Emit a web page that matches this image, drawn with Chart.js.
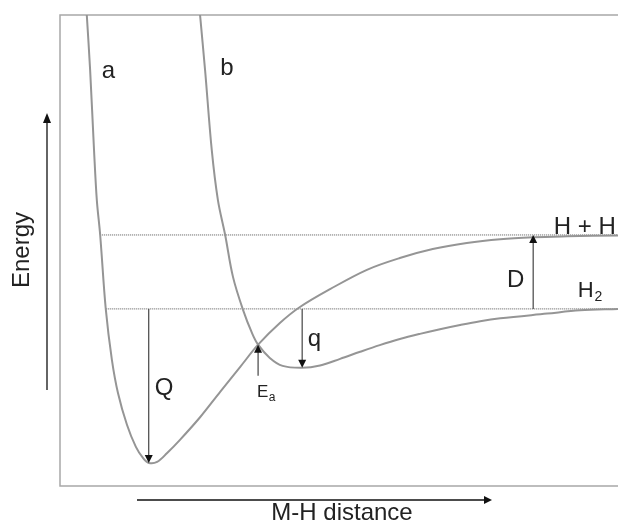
<!DOCTYPE html>
<html>
<head>
<meta charset="utf-8">
<script src="https://cdn.jsdelivr.net/npm/chart.js@4.4.1/dist/chart.umd.min.js"></script>
<style>
  html,body{margin:0;padding:0;background:#fff;}
  #wrap{width:618px;height:532px;position:relative;}
</style>
</head>
<body>
<div id="wrap"><canvas id="pes"></canvas></div>
<script>
// curve a: chemisorbed H (deep well, goes to H + H)
const aX = [0.48,0.54,0.61,0.66,0.72,0.82,0.93,1.04,1.20,1.36,1.49,1.59,1.74,1.92,2.15,2.51,2.87,3.23,3.55,3.94,4.30,4.84,5.50,6.09,6.68,7.29,7.89,8.48,9.09,10.0];
const aY = [10.0,8.83,7.13,6.07,5.33,3.76,2.68,1.97,1.30,0.83,0.59,0.49,0.51,0.70,0.98,1.46,2.00,2.53,3.00,3.46,3.80,4.18,4.59,4.84,5.03,5.16,5.24,5.28,5.30,5.32];
// curve b: physisorbed H2 (shallow well, goes to H2)
const bX = [2.51,2.60,2.72,2.83,2.96,3.10,3.28,3.44,3.55,3.76,3.99,4.34,4.66,5.02,5.38,5.73,6.09,6.45,6.81,7.17,7.53,7.89,8.73,9.32,10.0];
const bY = [10.0,8.83,7.13,6.07,5.33,4.44,3.74,3.25,3.00,2.72,2.55,2.51,2.56,2.70,2.85,2.99,3.12,3.23,3.33,3.42,3.50,3.56,3.66,3.73,3.76];
// reference levels: H + H and H2
const levelY = [5.33, 3.76];
const levelStart = [0.72, 0.82];
// energy arrows: Q, Ea, q, D
const arrowNames = ['Q','Ea','q','D'];
const arrowX = [1.59, 3.55, 4.34, 8.48];
const arrowFrom = [3.76, 2.34, 3.76, 3.76];
const arrowTo = [0.49, 3.00, 2.51, 5.33];

const curveColor = '#959595';
const ink = '#222';

function pts(xs, ys){ return xs.map((x,i)=>({x, y:ys[i]})); }

function head(ctx, x, y, dx, dy, len, w){
  const px = -dy, py = dx;
  ctx.beginPath();
  ctx.moveTo(x, y);
  ctx.lineTo(x - dx*len + px*w/2, y - dy*len + py*w/2);
  ctx.lineTo(x - dx*len - px*w/2, y - dy*len - py*w/2);
  ctx.closePath();
  ctx.fill();
}

const drawing = {
  id:'drawing',
  beforeDatasetsDraw(chart){
    const {ctx, chartArea:ca} = chart;
    ctx.save();
    ctx.strokeStyle = '#a8a8a8';
    ctx.lineWidth = 1.5;
    ctx.beginPath();
    ctx.moveTo(ca.right, ca.top); ctx.lineTo(ca.left, ca.top);
    ctx.lineTo(ca.left, ca.bottom); ctx.lineTo(ca.right, ca.bottom);
    ctx.stroke();
    ctx.restore();
  },
  afterDatasetsDraw(chart){
    const {ctx, chartArea:ca, scales:{x, y}} = chart;
    ctx.save();
    // arrows inside plot
    ctx.strokeStyle = '#444'; ctx.fillStyle = '#111'; ctx.lineWidth = 1.2;
    arrowX.forEach((v,i)=>{
      const px = x.getPixelForValue(v);
      const y0 = y.getPixelForValue(arrowFrom[i]);
      const y1 = y.getPixelForValue(arrowTo[i]);
      const dir = y1 > y0 ? 1 : -1;
      ctx.beginPath(); ctx.moveTo(px, y0); ctx.lineTo(px, y1 - dir*6); ctx.stroke();
      head(ctx, px, y1, 0, dir, 8, 8);
    });
    // labels
    ctx.fillStyle = ink;
    ctx.textBaseline = 'alphabetic';
    const txt = (s, dx, dy, size) => {
      ctx.font = size + 'px "Liberation Sans", Arial, sans-serif';
      ctx.fillText(s, x.getPixelForValue(dx), y.getPixelForValue(dy));
    };
    ctx.textAlign = 'left';
    txt('a', 0.75, 8.66, 24);
    txt('b', 2.87, 8.73, 24);
    txt('Q', 1.70, 1.93, 24);
    txt('E', 3.53, 1.89, 17);
    txt('a', 3.74, 1.80, 12);
    txt('q', 4.44, 2.97, 24);
    txt('D', 8.01, 4.23, 24);
    txt('H + H', 8.85, 5.35, 24);
    txt('H', 9.28, 4.01, 22);
    txt('2', 9.58, 3.92, 14);

    // axis arrows outside plot
    ctx.strokeStyle = '#111'; ctx.fillStyle = '#111'; ctx.lineWidth = 1.3;
    const ax = ca.left - 13;
    ctx.beginPath(); ctx.moveTo(ax, ca.top + 375); ctx.lineTo(ax, ca.top + 104); ctx.stroke();
    head(ctx, ax, ca.top + 98, 0, -1, 10, 8);
    const ay = ca.bottom + 14;
    ctx.beginPath(); ctx.moveTo(ca.left + 77, ay); ctx.lineTo(ca.left + 426, ay); ctx.stroke();
    head(ctx, ca.left + 432, ay, 1, 0, 8, 8);

    ctx.fillStyle = ink;
    ctx.font = '24px "Liberation Sans", Arial, sans-serif';
    ctx.textAlign = 'center';
    ctx.fillText('M-H distance', ca.left + 282, ca.bottom + 34);
    ctx.translate(ca.left - 31, ca.top + 235);
    ctx.rotate(-Math.PI/2);
    ctx.fillText('Energy', 0, 0);
    ctx.restore();
  }
};

const datasets = [
  {data: pts(aX, aY), borderColor: curveColor, borderWidth: 2, pointRadius: 0, showLine: true, tension: 0.35},
  {data: pts(bX, bY), borderColor: curveColor, borderWidth: 2, pointRadius: 0, showLine: true, tension: 0.35}
];
levelY.forEach((v,i)=>{
  datasets.push({data: [{x: levelStart[i], y: v}, {x: 10, y: v}], borderColor: '#555', borderWidth: 1, borderDash: [1,1], pointRadius: 0, showLine: true});
});

new Chart(document.getElementById('pes'), {
  type: 'scatter',
  data: {datasets},
  options: {
    responsive: true,
    maintainAspectRatio: false,
    animation: false,
    layout: {padding: {left: 60, top: 15, right: 0, bottom: 46}},
    plugins: {legend: {display: false}, tooltip: {enabled: false}},
    scales: {
      x: {type: 'linear', min: 0, max: 10, display: false},
      y: {type: 'linear', min: 0, max: 10, display: false}
    }
  },
  plugins: [drawing]
});
</script>
</body>
</html>
